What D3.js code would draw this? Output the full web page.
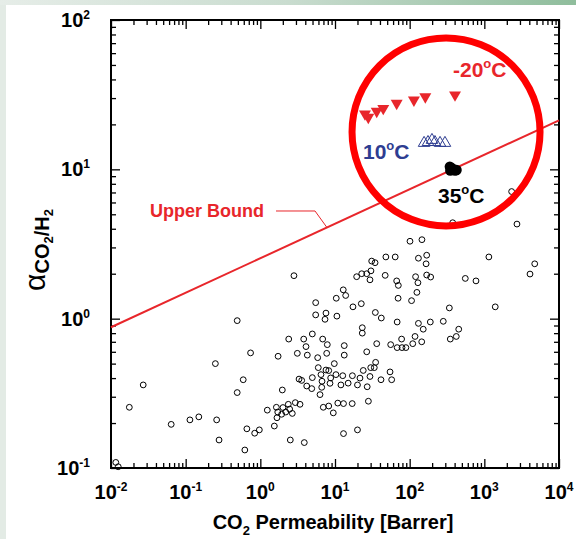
<!DOCTYPE html>
<html><head><meta charset="utf-8">
<script src="https://cdn.jsdelivr.net/npm/d3@7"></script>
<style>
html,body{margin:0;padding:0;background:#fff;}
svg{display:block;font-family:"Liberation Sans",Arial,Helvetica,sans-serif;}
</style></head><body>
<svg id="chart" width="576" height="539"></svg>
<script>
// ---------- data ----------
const litPerm = [0.0116,0.0125,0.0176,0.027,0.064,0.114,0.15,0.25,0.26,0.28,0.49,0.49,0.59,0.66,0.62,0.74,0.84,0.97,1.24,1.54,1.64,1.67,1.71,1.73,1.97,1.93,2.01,2.19,2.37,2.40,2.52,2.47,2.68,2.94,3.40,3.13,3.30,3.58,3.88,3.81,4.09,4.26,4.18,4.88,4.97,4.97,5.51,5.51,5.86,5.97,6.30,6.49,6.64,6.70,6.84,6.97,7.35,7.57,7.89,7.74,7.57,8.24,8.24,8.57,8.75,9.49,9.79,10.3,10.6,10.9,2.82,377,2735,101,146,31,34.4,48,64,131,169,166,1150,4730,4090,19.5,22.8,26.6,30.3,29.4,47,67,70.5,120,129,169,191,556,773,12.9,13.9,10.4,22.5,17.4,70,125,106,340,1400,34.7,41.7,68,131,189,282,152,454,421,350,23.2,23.2,13.3,13.3,36.2,55.7,68,79,89,78,110,118,145,26.6,35,23.9,30.1,33.6,54.6,12.7,17.1,29.4,41.3,57.4,21.6,2320,12,15,20,27,13,17,28,20,13];
const litSel  = [0.109,0.102,0.255,0.36,0.196,0.21,0.22,0.50,0.21,0.154,0.97,0.32,0.39,0.183,0.132,0.59,0.171,0.18,0.244,0.191,0.255,0.217,0.237,0.56,0.333,0.229,0.254,0.237,0.267,0.73,0.154,0.248,0.232,0.274,0.267,0.586,0.394,0.386,0.148,0.73,0.65,0.57,0.354,0.34,0.403,0.79,1.28,1.06,0.548,0.47,0.31,0.422,0.347,0.381,0.73,0.255,0.99,1.09,0.67,0.586,0.453,0.26,0.449,0.369,0.401,0.234,0.50,0.422,1.04,0.272,1.94,4.39,4.30,3.30,3.38,2.43,2.37,2.59,2.59,2.54,2.66,2.33,2.59,2.33,1.99,1.91,2.00,2.00,2.09,1.82,1.95,1.79,1.67,1.91,1.74,1.96,1.90,1.86,1.79,1.56,1.43,1.37,1.26,1.20,1.37,1.50,1.32,1.18,1.20,1.10,1.01,0.95,0.93,0.95,0.96,0.85,0.85,0.76,0.73,0.87,0.80,0.66,0.57,0.68,0.67,0.64,0.64,0.64,0.73,0.68,0.76,0.70,0.60,0.51,0.45,0.47,0.47,0.44,0.415,0.415,0.41,0.39,0.39,0.40,7.1,0.36,0.37,0.36,0.35,0.27,0.27,0.28,0.18,0.17];

const coldPerm = [27.9,25.2,36.2,44.3,67,114,162,405];      // -20 °C
const coldSel  = [22.3,23.5,24.5,25.6,27.7,29.1,30.6,31.5];
const midPerm  = [156,176,199,218,255,297];                  // 10 °C
const midSel   = [15.0,15.2,15.7,15.2,15.0,15.0];
const warmPerm = [345,350,365,385,405,425];                  // 35 °C
const warmSel  = [10.4,9.8,10.2,10.0,9.8,9.9];

const boundPerm = [0.01, 10000];                             // upper bound
const boundSel  = [0.876, 21.3];

const xTickExp = [-2,-1,0,1,2,3,4];
const yTickExp = [-1,0,1,2];

// ---------- layout ----------
const svg = d3.select("#chart");
const W = 576, H = 539;
const x = d3.scaleLog().domain([1e-2,1e4]).range([111,559]);
const y = d3.scaleLog().domain([0.1,100]).range([468,20]);

// page background frame
const defs = svg.append("defs");
const grad = defs.append("linearGradient").attr("id","topg").attr("x1","0").attr("x2","1");
grad.append("stop").attr("offset","0").attr("stop-color","#e6ede8");
grad.append("stop").attr("offset","0.5").attr("stop-color","#c9dccf");
grad.append("stop").attr("offset","1").attr("stop-color","#8fbd9c");
svg.append("rect").attr("width",W).attr("height",H).attr("fill","#fff");
svg.append("rect").attr("x",0).attr("y",0).attr("width",6).attr("height",H).attr("fill","#e3ebe5");
svg.append("rect").attr("x",0).attr("y",0).attr("width",W).attr("height",5).attr("fill","url(#topg)");

// ---------- ticks (inward, all four sides) ----------
const majors = xTickExp.map(e=>Math.pow(10,e));
const xMinor = [];
for (let e=-2;e<4;e++) for (let k=2;k<=9;k++) xMinor.push(k*Math.pow(10,e));
const yMajors = yTickExp.map(e=>Math.pow(10,e));
const yMinor = [];
for (let e=-1;e<2;e++) for (let k=2;k<=9;k++) yMinor.push(k*Math.pow(10,e));

function axisG(axis, tx, ty){
  const g = svg.append("g").attr("transform",`translate(${tx},${ty})`).call(axis);
  g.selectAll("text").remove();
  g.select(".domain").remove();
  g.selectAll("line").attr("stroke","#000").attr("stroke-width",1.3);
  return g;
}
axisG(d3.axisBottom(x).tickValues(majors).tickSize(-9), 0, 468);
axisG(d3.axisBottom(x).tickValues(xMinor).tickSize(-5), 0, 468);
axisG(d3.axisTop(x).tickValues(majors).tickSize(-9), 0, 20);
axisG(d3.axisTop(x).tickValues(xMinor).tickSize(-5), 0, 20);
axisG(d3.axisLeft(y).tickValues(yMajors).tickSize(-9), 111, 0);
axisG(d3.axisLeft(y).tickValues(yMinor).tickSize(-5), 111, 0);
axisG(d3.axisRight(y).tickValues(yMajors).tickSize(-9), 559, 0);
axisG(d3.axisRight(y).tickValues(yMinor).tickSize(-5), 559, 0);

svg.append("rect").attr("x",111).attr("y",20).attr("width",448).attr("height",448)
  .attr("fill","none").attr("stroke","#000").attr("stroke-width",2);

// ---------- tick labels ----------
function powLabel(sel, e){
  sel.append("tspan").text("10");
  sel.append("tspan").attr("dy",-8).attr("font-size",12).text(String(e));
}
xTickExp.forEach(e=>{
  const t = svg.append("text").attr("x",x(Math.pow(10,e))).attr("y",499)
    .attr("text-anchor","middle").attr("font-size",20).attr("font-weight","bold");
  powLabel(t,e);
});
yTickExp.forEach(e=>{
  const t = svg.append("text").attr("x",90).attr("y",y(Math.pow(10,e))+7)
    .attr("text-anchor","end").attr("font-size",20).attr("font-weight","bold");
  powLabel(t,e);
});

// ---------- axis titles ----------
const xt = svg.append("text").attr("x",333).attr("y",529).attr("text-anchor","middle")
  .attr("font-size",20).attr("font-weight","bold");
xt.append("tspan").text("CO");
xt.append("tspan").attr("font-size",13).attr("dy",6).text("2");
xt.append("tspan").attr("dy",-6).text(" Permeability [Barrer]");

const yt = svg.append("text").attr("transform","translate(45,250) rotate(-90)")
  .attr("text-anchor","middle").attr("font-size",20).attr("font-weight","bold");
yt.append("tspan").attr("font-size",30).attr("font-weight","normal").text("α");
yt.append("tspan").attr("dy",4).text("CO");
yt.append("tspan").attr("font-size",13).attr("dy",4).text("2");
yt.append("tspan").attr("dy",-4).text("/H");
yt.append("tspan").attr("font-size",13).attr("dy",4).text("2");

// ---------- upper bound ----------
const red = "#e8262b";
const line = d3.line().x(d=>x(d[0])).y(d=>y(d[1]));
svg.append("path").datum(d3.zip(boundPerm,boundSel)).attr("d",line)
  .attr("fill","none").attr("stroke",red).attr("stroke-width",2);
const bSlope = Math.log10(boundSel[1]/boundSel[0])/Math.log10(boundPerm[1]/boundPerm[0]);
const boundAt = p => boundSel[0]*Math.pow(p/boundPerm[0], bSlope);
svg.append("text").attr("x",150).attr("y",217).attr("font-size",18).attr("font-weight","bold")
  .attr("fill",red).text("Upper Bound");
svg.append("path").attr("d",d3.line()([[276,y(5.26)],[x(5.4),y(5.26)],[x(7.8),y(boundAt(7.8))]]))
  .attr("fill","none").attr("stroke",red).attr("stroke-width",1);

// ---------- literature points ----------
svg.append("g").selectAll("circle").data(d3.zip(litPerm,litSel)).join("circle")
  .attr("cx",d=>x(d[0])).attr("cy",d=>y(d[1])).attr("r",2.9)
  .attr("fill","none").attr("stroke","#000").attr("stroke-width",1);

// ---------- this work ----------
const tri = d3.symbol().type(d3.symbolTriangle).size(62);
svg.append("g").selectAll("path").data(d3.zip(coldPerm,coldSel)).join("path")
  .attr("d",tri).attr("transform",d=>`translate(${x(d[0])},${y(d[1])}) rotate(180)`)
  .attr("fill",red);
const blue = "#2e3d91";
svg.append("g").selectAll("path").data(d3.zip(midPerm,midSel)).join("path")
  .attr("d",d3.symbol().type(d3.symbolTriangle).size(58))
  .attr("transform",d=>`translate(${x(d[0])},${y(d[1])})`)
  .attr("fill","none").attr("stroke",blue).attr("stroke-width",1);
svg.append("g").selectAll("circle").data(d3.zip(warmPerm,warmSel)).join("circle")
  .attr("cx",d=>x(d[0])).attr("cy",d=>y(d[1])).attr("r",5.2).attr("fill","#000");

// labels
function degLabel(tx,ty,num,col){
  const t = svg.append("text").attr("x",tx).attr("y",ty).attr("font-size",21)
    .attr("font-weight","bold").attr("fill",col);
  t.append("tspan").text(num);
  t.append("tspan").attr("font-size",13).attr("dy",-9).text("o");
  t.append("tspan").attr("dy",9).text("C");
}
degLabel(453,77,"-20",red);
degLabel(363,159,"10",blue);
degLabel(438,203,"35","#000");

// highlight circle
svg.append("circle").attr("cx",x(307)).attr("cy",y(17.8)).attr("r",94)
  .attr("fill","none").attr("stroke","#ff0000").attr("stroke-width",7);
</script></body></html>
